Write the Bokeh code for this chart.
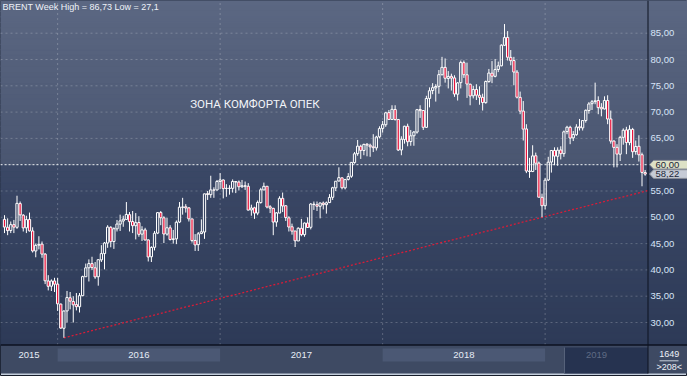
import numpy as np
from bokeh.plotting import figure
from bokeh.models import ColumnDataSource
from bokeh.core.properties import value
from bokeh.embed import file_html
from bokeh.resources import INLINE

# ---------------- data (weekly Brent candles, first bar = week of 7 Sep 2015) ----------------
opens = [49.6, 48.1, 47.5, 48.6, 48.1, 52.6, 50.4, 48.0, 49.6, 47.4,
         43.6, 44.7, 44.9, 43.0, 37.9, 36.9, 37.9, 37.3, 33.5, 28.9,
         32.2, 34.7, 34.0, 33.4, 33.0, 35.1, 38.7, 40.4, 41.2, 40.4,
         38.7, 41.9, 43.1, 45.1, 48.1, 45.4, 47.8, 48.7, 49.3, 49.6,
         50.5, 49.2, 48.4, 49.0, 46.8, 47.6, 45.7, 42.5, 44.3, 47.0,
         50.9, 49.9, 46.8, 48.0, 45.8, 45.9, 49.1, 51.9, 52.0, 51.8,
         49.7, 45.6, 44.8, 46.9, 47.2, 54.5, 54.3, 55.2, 55.2, 56.8,
         57.1, 55.5, 55.5, 55.5, 56.8, 56.7, 55.8, 56.0, 55.9, 51.4,
         51.8, 50.8, 52.8, 55.2, 55.9, 52.0, 51.7, 49.1, 50.8, 53.6,
         52.2, 49.9, 48.2, 47.4, 45.5, 47.9, 46.7, 48.9, 48.1, 52.5,
         52.4, 52.1, 52.7, 52.4, 52.8, 53.8, 55.6, 56.9, 57.5, 55.6,
         57.2, 57.8, 60.4, 62.1, 63.5, 62.7, 63.9, 63.7, 63.4, 63.2,
         65.3, 66.9, 67.6, 69.9, 68.6, 70.5, 68.6, 62.8, 64.8, 67.3,
         64.4, 65.5, 66.2, 70.5, 70.3, 67.1, 72.6, 74.1, 74.6, 74.9,
         77.1, 78.5, 76.4, 76.8, 76.5, 73.4, 75.6, 79.4, 77.1, 75.3,
         73.1, 74.3, 73.2, 72.8, 71.8, 75.8, 77.4, 76.8, 78.1, 78.8,
         82.7, 84.2, 80.4, 79.8, 77.6, 72.8, 70.2, 66.8, 58.8, 58.7,
         61.7, 60.3, 53.8, 52.2, 57.1, 60.5, 62.7, 61.6, 62.8, 62.1,
         66.3, 67.1, 65.1, 65.7, 67.2, 67.0, 68.4, 70.3, 71.6, 72.0,
         72.2, 70.9, 70.6, 72.2, 68.7, 64.5, 63.3, 62.0, 65.2, 66.6,
         64.2, 66.7, 62.5, 63.5, 61.9, 58.5]
highs = [50.4, 49.8, 49.2, 49.5, 54.1, 53.0, 50.6, 50.3, 50.9, 48.1,
         45.0, 46.4, 45.4, 43.2, 39.0, 38.2, 38.5, 38.5, 33.6, 32.3,
         36.0, 35.8, 35.0, 35.6, 35.6, 38.9, 41.2, 42.0, 42.5, 41.5,
         42.0, 44.7, 45.3, 48.5, 48.3, 48.1, 49.5, 50.5, 50.3, 52.9,
         51.0, 51.2, 50.8, 50.2, 48.3, 48.0, 45.8, 44.5, 47.4, 51.0,
         51.2, 50.2, 49.9, 48.5, 47.6, 49.4, 52.9, 53.7, 52.5, 51.9,
         49.7, 46.8, 47.2, 49.6, 54.5, 55.0, 57.9, 55.7, 57.1, 58.4,
         57.2, 56.3, 56.1, 57.2, 56.9, 57.0, 57.1, 56.8, 56.5, 52.4,
         52.0, 53.2, 55.6, 56.6, 55.9, 52.3, 51.8, 51.0, 54.0, 54.7,
         52.3, 50.2, 48.8, 47.4, 48.1, 49.7, 49.0, 50.0, 52.7, 53.0,
         53.0, 52.8, 53.0, 53.0, 54.4, 55.8, 56.9, 59.5, 57.6, 57.3,
         58.4, 60.5, 62.4, 64.7, 63.8, 64.0, 64.1, 64.0, 65.8, 65.5,
         67.3, 68.3, 70.05, 70.4, 71.3, 71.3, 68.6, 65.4, 67.4, 67.8,
         66.6, 66.4, 70.6, 71.3, 70.4, 73.1, 74.7, 75.5, 75.3, 78.0,
         80.5, 80.2, 77.8, 77.3, 77.0, 75.7, 79.8, 79.8, 79.4, 75.4,
         75.0, 75.3, 74.9, 73.5, 76.0, 78.2, 79.7, 80.1, 79.6, 82.9,
         86.74, 85.4, 81.8, 80.5, 78.0, 73.9, 72.1, 67.7, 61.3, 63.7,
         62.3, 60.6, 54.5, 57.5, 61.5, 62.8, 63.3, 63.3, 63.5, 66.5,
         67.4, 67.4, 66.4, 67.7, 68.7, 68.4, 70.5, 71.9, 72.3, 75.6,
         73.0, 71.7, 73.0, 73.2, 70.3, 64.6, 63.9, 65.5, 66.9, 67.2,
         67.5, 67.0, 64.6, 65.6, 62.3, 59.0]
lows = [47.0, 46.6, 47.0, 47.0, 47.8, 49.3, 47.3, 47.0, 47.3, 43.3,
        42.4, 43.9, 42.3, 37.3, 36.1, 35.98, 35.8, 32.2, 28.8, 27.10,
        30.0, 32.5, 30.0, 32.3, 31.9, 35.0, 38.7, 37.8, 40.0, 38.3,
        37.0, 41.5, 40.1, 44.2, 44.3, 44.0, 47.3, 47.4, 48.2, 49.6,
        47.3, 47.0, 45.8, 46.3, 45.5, 45.6, 41.6, 41.5, 43.7, 46.8,
        48.5, 45.1, 46.5, 45.6, 45.0, 44.9, 48.9, 50.5, 50.9, 49.2,
        45.2, 43.6, 43.6, 46.8, 45.9, 53.3, 53.7, 53.7, 55.1, 55.4,
        53.6, 53.9, 54.3, 54.7, 54.6, 55.1, 55.6, 55.2, 51.3, 50.3,
        49.7, 50.4, 52.6, 55.2, 51.7, 50.8, 46.6, 48.2, 50.8, 51.0,
        49.3, 47.3, 46.7, 44.35, 45.5, 46.4, 46.3, 48.0, 47.7, 51.4,
        51.2, 49.8, 51.5, 50.7, 52.7, 53.3, 55.0, 56.8, 55.3, 55.3,
        57.0, 57.5, 60.2, 61.7, 61.1, 61.8, 61.6, 61.5, 62.4, 62.7,
        65.0, 66.1, 67.2, 68.5, 68.6, 68.4, 62.6, 61.8, 64.0, 63.5,
        63.6, 63.6, 65.9, 68.9, 66.6, 67.0, 70.9, 73.4, 72.0, 73.5,
        77.0, 75.6, 74.5, 74.1, 72.9, 72.2, 74.5, 76.5, 72.7, 71.3,
        72.6, 72.3, 71.4, 70.3, 71.6, 75.6, 75.5, 76.6, 77.6, 78.7,
        82.6, 79.8, 78.9, 75.1, 72.6, 69.6, 64.6, 58.4, 57.5, 58.6,
        59.0, 53.8, 50.0, 51.5, 56.9, 58.5, 59.9, 59.8, 61.0, 61.5,
        65.8, 63.9, 64.5, 65.5, 66.5, 66.5, 68.0, 69.7, 70.4, 71.5,
        69.6, 69.2, 70.5, 67.7, 64.0, 59.5, 59.5, 60.7, 63.8, 62.0,
        63.7, 61.3, 61.9, 60.6, 55.9, 57.9]
closes = [48.14, 47.47, 48.60, 48.13, 52.65, 50.46, 47.99, 49.56, 47.42, 43.61,
          44.66, 44.86, 43.00, 37.93, 36.88, 37.89, 37.28, 33.55, 28.94, 32.18,
          34.74, 34.06, 33.36, 33.01, 35.10, 38.72, 40.39, 41.20, 40.44, 38.67,
          41.94, 43.10, 45.11, 48.13, 45.37, 47.83, 48.72, 49.32, 49.64, 50.54,
          49.17, 48.41, 48.99, 46.76, 47.61, 45.69, 42.46, 44.27, 46.97, 50.88,
          49.92, 46.83, 48.01, 45.77, 45.89, 49.06, 51.93, 51.95, 51.78, 49.71,
          45.58, 44.75, 46.86, 47.24, 54.46, 54.33, 55.21, 55.16, 56.82, 57.10,
          55.45, 55.49, 55.52, 56.81, 56.70, 55.81, 56.00, 55.90, 51.37, 51.76,
          50.80, 52.83, 55.24, 55.89, 51.96, 51.73, 49.10, 50.84, 53.61, 52.15,
          49.95, 48.15, 47.37, 45.54, 47.92, 46.71, 48.91, 48.06, 52.52, 52.42,
          52.10, 52.72, 52.41, 52.75, 53.78, 55.62, 56.86, 57.54, 55.62, 57.17,
          57.75, 60.44, 62.07, 63.52, 62.72, 63.86, 63.73, 63.40, 63.23, 65.25,
          66.87, 67.62, 69.87, 68.61, 70.52, 68.58, 62.79, 64.84, 67.31, 64.37,
          65.49, 66.21, 70.45, 70.27, 67.11, 72.58, 74.06, 74.64, 74.87, 77.12,
          78.51, 76.44, 76.79, 76.46, 73.44, 75.55, 79.44, 77.11, 75.33, 73.07,
          74.29, 73.21, 72.81, 71.83, 75.82, 77.42, 76.83, 78.09, 78.80, 82.72,
          84.16, 80.43, 79.78, 77.62, 72.83, 70.18, 66.76, 58.80, 58.71, 61.67,
          60.28, 53.82, 52.20, 57.06, 60.48, 62.70, 61.64, 62.75, 62.10, 66.25,
          67.12, 65.07, 65.74, 67.16, 67.03, 68.39, 70.34, 71.55, 71.97, 72.15,
          70.85, 70.62, 72.21, 68.69, 64.49, 63.29, 62.01, 65.20, 66.55, 64.23,
          66.72, 62.47, 63.46, 61.89, 58.53, 58.22]

price_ticks = [30, 35, 40, 45, 50, 55, 60, 65, 70, 75, 80, 85]
price_labels = ["30,00", "35,00", "40,00", "45,00", "50,00", "55,00",
                "60,00", "65,00", "70,00", "75,00", "80,00", "85,00"]
year_labels = ["2015", "2016", "2017", "2018", "2019"]
year_starts = [17, 69, 121, 173]          # first weekly bar of 2016, 2017, 2018, 2019
title_text = "BRENT Week High = 86,73 Low = 27,1"
zone_text = "ЗОНА КОМФОРТА ОПЕК"
zone_level = 60.0
zone_label = "60,00"
last_price = 58.22
last_label = "58,22"
trend_idx = [19, 172]
trend_val = [27.10, 50.00]
info_top = "1649"
info_bottom = ">208<"

# ---------------- geometry / style ----------------
W, H = 687, 376
PX, PY = 3.125, 5.26          # pixels per bar, pixels per price unit
X0 = -4 / PX
X1 = X0 + W / PX
Y1 = 30 + 322 / PY
Y0 = Y1 - H / PY


def xpx(px):
    return X0 + px / PX


def ypx(py):
    return Y1 - py / PY


XP = xpx(647.5)   # right edge of candle area
YP = ypx(344.5)   # bottom edge of candle area
YT = ypx(373.0)   # bottom of time strip

FONT = value("Liberation Sans")


def hex2rgb(h):
    return np.array([int(h[i:i + 2], 16) for i in (1, 3, 5)], dtype=float)


def grad(ya, yb, ca, cb, n=30):
    ys = np.linspace(ya, yb, n + 1)
    a, b = hex2rgb(ca), hex2rgb(cb)
    cols = []
    for k in range(n):
        t = (k + 0.5) / n
        r, g, bb = (a + (b - a) * t).round().astype(int)
        cols.append("#%02x%02x%02x" % (r, g, bb))
    return ys[:-1], ys[1:], cols


p = figure(width=W, height=H, x_range=(X0, X1), y_range=(Y0, Y1),
           output_backend="svg", toolbar_location=None,
           x_axis_type=None, y_axis_type=None, min_border=0,
           background_fill_color="#c3cddb", border_fill_color="#c3cddb",
           outline_line_color="#161c2a")

# background: lighter "comfort zone" above 60, darker gradient below
p.quad(left=X0, right=X1, bottom=YP, top=Y1, fill_color="#3b4866", line_color=None)
for ya, yb, ca, cb in [(zone_level, Y1, "#4a5671", "#5b6782"),
                       (YP, zone_level, "#2d3a57", "#3b4866")]:
    bo, to, cols = grad(ya, yb, ca, cb)
    p.quad(left=X0, right=X1, bottom=bo, top=to, fill_color=cols,
           line_color=cols, line_width=1.2)

# time strip
p.quad(left=X0, right=X1, bottom=YT, top=YP, fill_color="#3e4a63", line_color=None)
p.quad(left=[year_starts[0], year_starts[2]], right=[year_starts[1], year_starts[3]],
       bottom=ypx(361), top=ypx(348), fill_color="#4b5874", line_color=None)
p.quad(left=xpx(564), right=XP, bottom=YT, top=ypx(347),
       fill_color="#263350", line_color=None)
p.segment(x0=xpx(564), x1=xpx(564), y0=YT, y1=ypx(347), line_color="#56627a", line_width=1)

# grid
p.segment(x0=X0, x1=XP, y0=price_ticks, y1=price_ticks, line_color="#ffffff",
          line_alpha=0.22, line_width=1, line_dash="2 3")
p.segment(x0=year_starts, x1=year_starts, y0=YP, y1=Y1, line_color="#ffffff",
          line_alpha=0.22, line_width=1, line_dash="2 3")

# comfort level line
p.segment(x0=X0, x1=XP, y0=zone_level, y1=zone_level, line_color="#eef0f2",
          line_width=1, line_dash="2 2")

# trend line (support)
slope = (trend_val[1] - trend_val[0]) / (trend_idx[1] - trend_idx[0])
p.line([trend_idx[0], XP], [trend_val[0], trend_val[0] + slope * (XP - trend_idx[0])],
       line_color="#d81c38", line_width=1.3, line_dash="2 2")

# candles
o, h, l, c = map(np.array, (opens, highs, lows, closes))
idx = np.arange(len(c))
btop = np.maximum(o, c)
bbot = np.minimum(o, c)
src = ColumnDataSource(dict(x=idx, h=h, l=l, top=btop, bot=bbot,
                            fa=np.where(c >= o, 0.0, 1.0)))
p.segment(x0="x", x1="x", y0="h", y1="top", source=src, line_color="#ffffff", line_width=1)
p.segment(x0="x", x1="x", y0="bot", y1="l", source=src, line_color="#ffffff", line_width=1)
p.vbar(x="x", width=0.72, top="top", bottom="bot", source=src,
       fill_color="#e8143c", fill_alpha="fa", line_color="#ffffff", line_width=1)

# separators
p.segment(x0=XP, x1=XP, y0=YT, y1=Y1, line_color="#0d1220", line_width=1)
p.segment(x0=X0, x1=X1, y0=YP, y1=YP, line_color="#0d1220", line_width=1.5)

# price labels
lab_t = [t for t in price_ticks if t != zone_level]
lab_s = [s for t, s in zip(price_ticks, price_labels) if t != zone_level]
p.text(x=xpx(650), y=lab_t, text=lab_s, text_font=FONT, text_font_size="9.5px",
       text_color="#d8e4f8", text_align="left", text_baseline="middle")

# value boxes
hh = 4.3 / PY
for lvl, lab, col in [(zone_level, zone_label, "#dde1c6"), (last_price, last_label, "#c6cbd6")]:
    p.patch([xpx(649), xpx(653), X1, X1, xpx(653)],
            [lvl, lvl + hh, lvl + hh, lvl - hh, lvl - hh],
            fill_color=col, line_color="#8a8f99", line_width=1)
    p.text(x=[xpx(655)], y=[lvl], text=[lab], text_font=FONT, text_font_size="9.5px",
           text_color="#1c2638", text_align="left", text_baseline="middle")

# title and zone caption
p.text(x=[xpx(2)], y=[ypx(1.5)], text=[title_text], text_font=FONT, text_font_size="9px",
       text_color="#eef2f8", text_align="left", text_baseline="top")
p.text(x=[xpx(254.5)], y=[ypx(103)], text=[zone_text], text_font=value("Roboto"),
       text_font_size="11.5px", text_color="#f2f4f8", text_align="center",
       text_baseline="middle")

# year labels
bounds = [X0] + year_starts + [XP]
mids = [(a + b) / 2 for a, b in zip(bounds[:-1], bounds[1:])]
ycols = ["#e6ecf6"] * 4 + ["#5f6b84"]
p.text(x=mids, y=ypx(354.5), text=year_labels, text_font=FONT, text_font_size="9.5px",
       text_color=ycols, text_align="center", text_baseline="middle")

# info box
p.text(x=[xpx(668.7)], y=[ypx(353.5)], text=[info_top], text_font=FONT, text_font_size="9px",
       text_color="#eef2f8", text_align="center", text_baseline="middle")
p.text(x=[xpx(668.7)], y=[ypx(366.5)], text=[info_bottom], text_font=FONT, text_font_size="9px",
       text_color="#eef2f8", text_align="center", text_baseline="middle")
p.segment(x0=xpx(659), x1=xpx(678), y0=ypx(360.3), y1=ypx(360.3), line_color="#c8d0dc", line_width=1)

open("out.html", "w").write(file_html(p, INLINE))
